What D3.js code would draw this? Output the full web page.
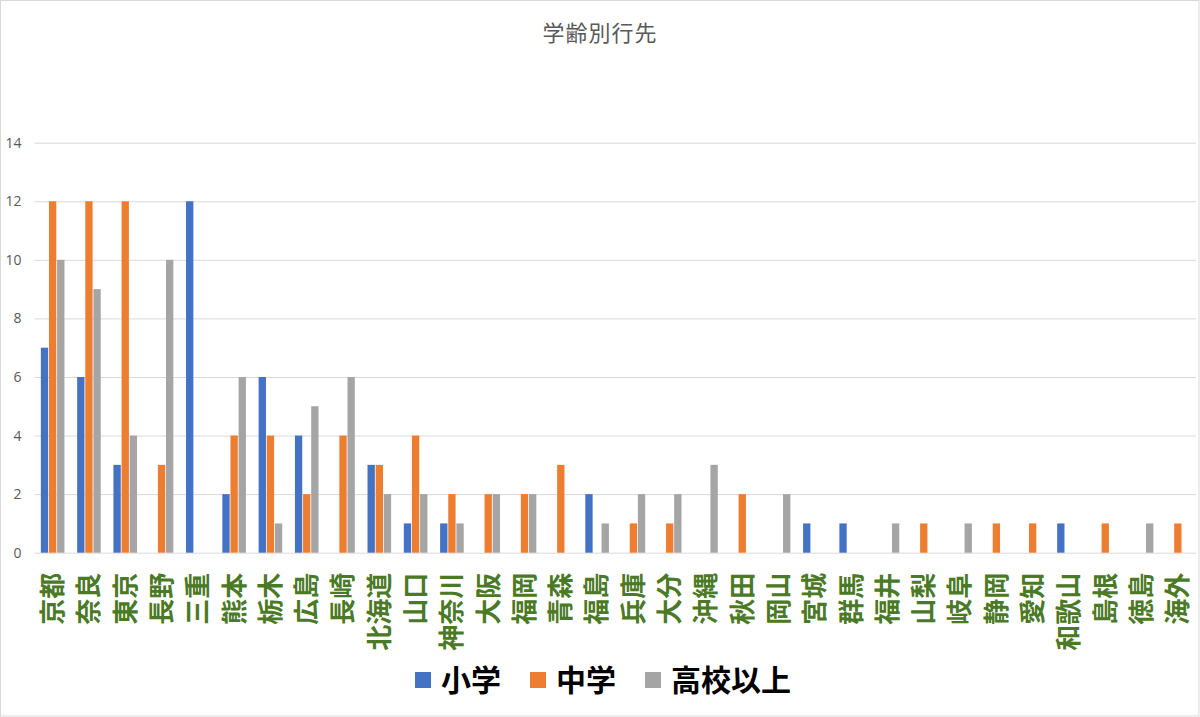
<!DOCTYPE html>
<html><head><meta charset="utf-8">
<script src="https://cdn.jsdelivr.net/npm/d3@7/dist/d3.min.js"></script>
<style>body{margin:0;background:#fff}svg{display:block}</style>
</head><body>
<svg id="c" width="1200" height="717"></svg>
<script>
const categories = ["京都","奈良","東京","長野","三重","熊本","栃木","広島","長崎","北海道","山口","神奈川","大阪","福岡","青森","福島","兵庫","大分","沖縄","秋田","岡山","宮城","群馬","福井","山梨","岐阜","静岡","愛知","和歌山","島根","徳島","海外"];
const seriesNames = ["小学","中学","高校以上"];
const elementary = [7,6,3,0,12,2,6,4,0,3,1,1,0,0,0,2,0,0,0,0,0,1,1,0,0,0,0,0,1,0,0,0];
const junior     = [12,12,12,3,0,4,4,2,4,3,4,2,2,2,3,0,1,1,0,2,0,0,0,0,1,0,1,1,0,1,0,1];
const highPlus   = [10,9,4,10,0,6,1,5,6,2,2,1,2,2,0,1,2,2,3,0,2,0,0,1,0,1,0,0,0,0,1,0];
const yTicks = [0,2,4,6,8,10,12,14];
const colors = ["#4472c4","#ed7d31","#a5a5a5"];

const seriesValues = [elementary, junior, highPlus];
const svg = d3.select("#c");
const W = 1200, H = 717;
const pLeft = 34.5, pRight = 1196, pTop = 142.7, pBottom = 552.7;

svg.append("rect").attr("x",0.5).attr("y",0.5).attr("width",W-1.5).attr("height",H-1.5)
  .attr("fill","#fff").attr("stroke","#d9d9d9");

const x0 = d3.scaleBand().domain(categories).range([pLeft,pRight]).paddingInner(0.35).paddingOuter(0.175);
const x1 = d3.scaleBand().domain(seriesNames).range([0,x0.bandwidth()]).paddingInner(0.1);
const y = d3.scaleLinear().domain([0,14]).range([pBottom,pTop]);

// gridlines
const yAxis = d3.axisLeft(y).tickValues(yTicks).tickSize(-(pRight-pLeft)).tickPadding(13);
const gy = svg.append("g").attr("transform",`translate(${pLeft},0)`).call(yAxis);
gy.select(".domain").remove();
gy.selectAll(".tick line").attr("stroke","#d9d9d9").attr("stroke-width",1);
gy.selectAll(".tick text").attr("fill","#595959").style("font-family","'Open Sans','Liberation Sans',Arial,sans-serif").style("font-size","14px");

// bars
const rows = categories.map((c,i)=>({cat:c, vals:seriesNames.map((s,j)=>({s, v:seriesValues[j][i], j}))}));
const g = svg.append("g");
g.selectAll("g.grp").data(rows).join("g").attr("class","grp")
  .attr("transform",d=>`translate(${x0(d.cat)},0)`)
  .selectAll("rect").data(d=>d.vals.filter(e=>e.v>0)).join("rect")
  .attr("x",d=>x1(d.s)).attr("width",x1.bandwidth())
  .attr("y",d=>y(d.v)).attr("height",d=>y(0)-y(d.v))
  .attr("fill",d=>colors[d.j]);

// x labels
const xAxis = d3.axisBottom(x0).tickSize(0).tickPadding(0);
const gx = svg.append("g").attr("transform",`translate(0,${pBottom})`).call(xAxis);
gx.select(".domain").remove();
gx.selectAll(".tick text")
  .attr("transform","translate(0,20) rotate(-90)")
  .attr("x",0).attr("y",0).attr("dy","0.36em")
  .attr("text-anchor","end")
  .attr("fill","#4b7a26")
  .style("font-family","'Noto Sans CJK JP',sans-serif")
  .style("font-weight","bold")
  .style("font-size","26px");

// title
svg.append("text").attr("x",600).attr("y",41).attr("text-anchor","middle")
  .attr("fill","#595959").style("font-family","'Noto Sans CJK JP',sans-serif")
  .style("font-size","22px").style("letter-spacing","1px").text("学齢別行先");

// legend
const legendX = [415,530,645];
const lg = svg.append("g");
seriesNames.forEach((s,i)=>{
  lg.append("rect").attr("x",legendX[i]).attr("y",672).attr("width",16).attr("height",16).attr("fill",colors[i]);
  lg.append("text").attr("x",legendX[i]+26).attr("y",680).attr("dy","0.36em")
    .attr("fill","#000").style("font-family","'Noto Sans CJK JP',sans-serif")
    .style("font-weight","bold").style("font-size","30px").text(s);
});
</script>
</body></html>
